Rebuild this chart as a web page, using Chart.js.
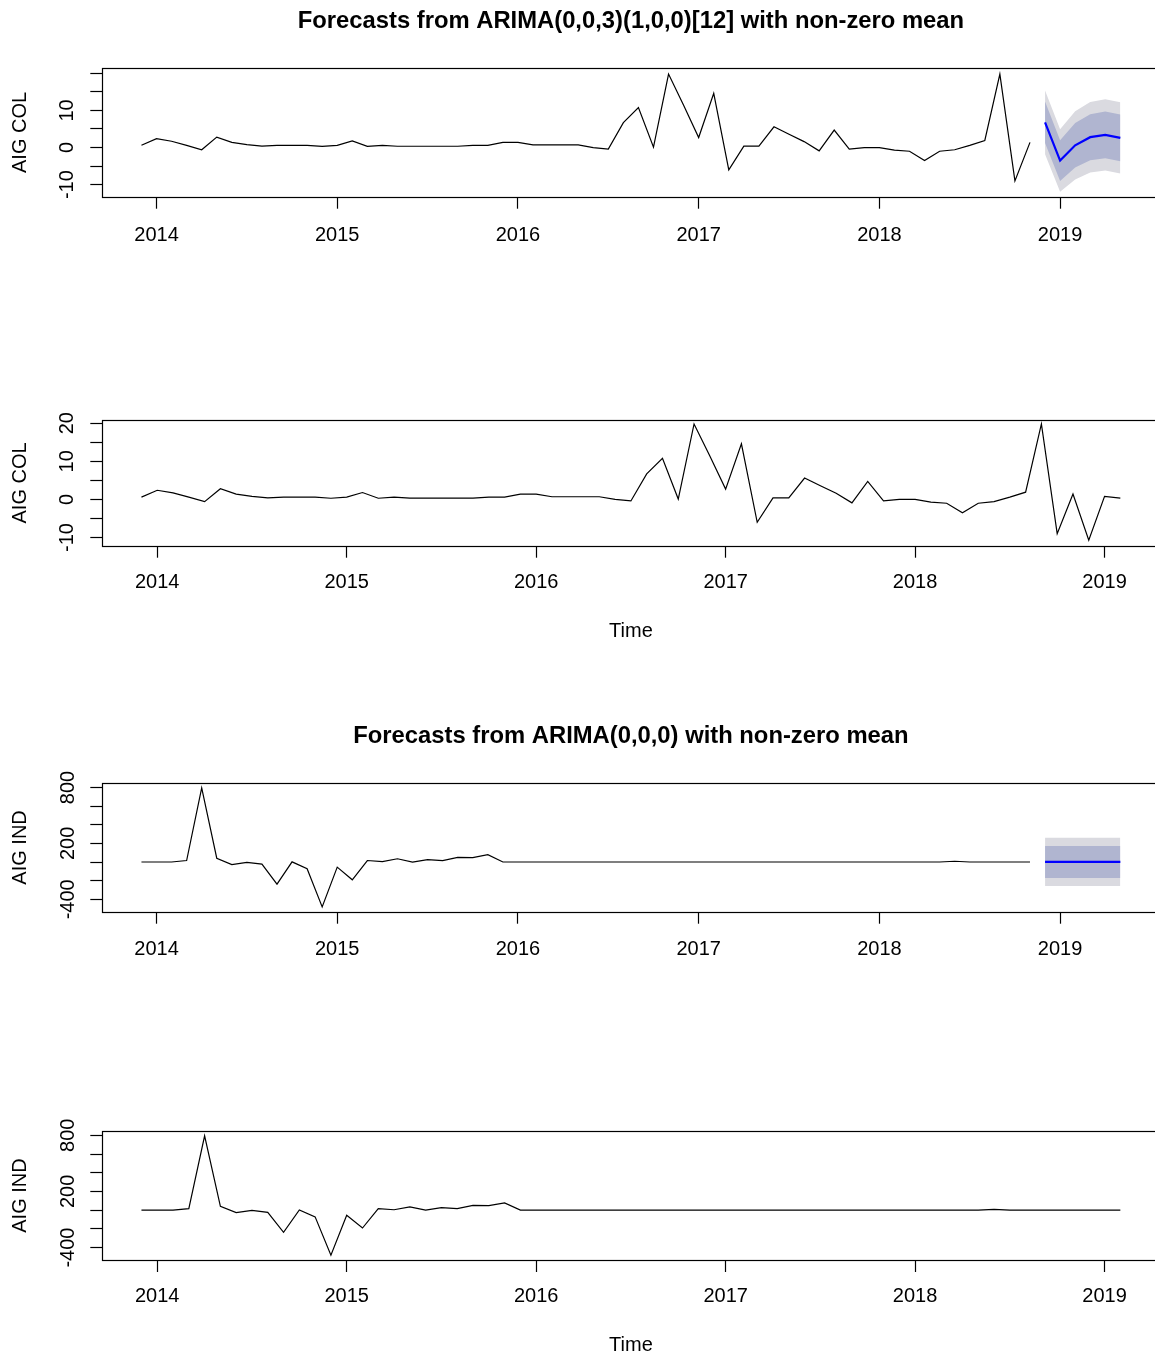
<!DOCTYPE html>
<html>
<head>
<meta charset="utf-8">
<script src="https://cdn.jsdelivr.net/npm/chart.js@4.4.1/dist/chart.umd.min.js"></script>
<style>
html,body{margin:0;padding:0;width:1155px;height:1357px;overflow:hidden;background:#fff}
canvas{position:absolute;left:0}
</style>
</head>
<body>
<canvas id="p1"></canvas>
<canvas id="p2"></canvas>
<canvas id="p3"></canvas>
<canvas id="p4"></canvas>
<script>
// ---------------- DATA ----------------
const seriesStart = 2013 + 11 / 12;      // Dec 2013 (monthly series)
const forecastStart = 2018 + 11 / 12;    // Dec 2018
const yearTicks = [2014, 2015, 2016, 2017, 2018, 2019];
const fitLength = 60;                    // Dec 2013 .. Nov 2018 used for the models

const colTicks = [-10, -5, 0, 5, 10, 15, 20];
const colLabelsFc = [-10, 0, 10];
const colLabelsFull = [-10, 0, 10, 20];
const indTicks = [-400, -200, 0, 200, 400, 600, 800];
const indLabels = [-400, 200, 800];

// AIG COL, Dec 2013 .. Feb 2019
const colValues = [
  0.6, 2.4, 1.7, 0.6, -0.6, 2.8, 1.4, 0.8, 0.4, 0.6, 0.6, 0.6,
  0.3, 0.6, 1.8, 0.3, 0.6, 0.35, 0.35, 0.35, 0.35, 0.35, 0.6, 0.6,
  1.4, 1.4, 0.7, 0.7, 0.7, 0.7, 0.0, -0.4, 6.7, 10.8, 0.1, 19.8,
  11.4, 2.7, 14.6, -6.0, 0.4, 0.4, 5.6, 3.6, 1.6, -0.9, 4.7, -0.4,
  0.0, 0.0, -0.7, -1.0, -3.5, -1.0, -0.6, 0.6, 1.9, 19.8, -9.0, 1.4,
  -10.7, 0.8, 0.35
];
// AIG IND, Dec 2013 .. Feb 2019
const indValues = [
  0, 0, 0, 16, 795, 41, -27, -3, -23, -237, 2, -72,
  -482, -55, -191, 16, 4, 35, 0, 26, 16, 50, 48, 78,
  0, 0, 0, 0, 0, 0, 0, 0, 0, 0, 0, 0,
  0, 0, 0, 0, 0, 0, 0, 0, 0, 0, 0, 0,
  0, 0, 0, 0, 0, 0, 8, 0, 0, 0, 0, 0,
  0, 0, 0
];

// Forecasts Dec 2018 .. May 2019
const colFcMean = [6.8, -3.5, 0.6, 2.8, 3.4, 2.6];
const colFcLo80 = [1.2, -9.0, -5.4, -3.4, -2.9, -3.7];
const colFcHi80 = [12.4, 2.0, 6.6, 9.0, 9.7, 8.9];
const colFcLo95 = [-1.8, -11.9, -8.6, -6.7, -6.2, -7.0];
const colFcHi95 = [15.4, 4.9, 9.8, 12.3, 13.0, 12.2];

const indFcMean = [1, 1, 1, 1, 1, 1];
const indFcLo80 = [-171, -171, -171, -171, -171, -171];
const indFcHi80 = [173, 173, 173, 173, 173, 173];
const indFcLo95 = [-258, -258, -258, -258, -258, -258];
const indFcHi95 = [260, 260, 260, 260, 260, 260];

const titleCol = 'Forecasts from ARIMA(0,0,3)(1,0,0)[12] with non-zero mean';
const titleInd = 'Forecasts from ARIMA(0,0,0) with non-zero mean';

// ---------------- RENDERING ----------------
Chart.defaults.font.family = "'Liberation Sans', Arial, sans-serif";
Chart.defaults.color = '#000';

const CW = 1180;
const PLOT_LEFT = 102.3;
const PLOT_RIGHT = 1159.5;
const SHADE95 = '#DADAE0';
const SHADE80 = '#B0B5D0';

function toPoints(start, vals) {
  return vals.map((v, i) => ({ x: start + i / 12, y: v }));
}

const boxPlugin = {
  id: 'rbox',
  afterDraw(chart) {
    const { ctx, chartArea: a } = chart;
    ctx.save();
    ctx.strokeStyle = '#000';
    ctx.lineWidth = 1.2;
    const l = Math.round(a.left) + 0.5, t = Math.round(a.top) + 0.5;
    const r = Math.round(a.right) + 0.5, b = Math.round(a.bottom) + 0.5;
    ctx.strokeRect(l, t, r - l, b - t);
    ctx.restore();
  }
};

function lineDs(points, color, width) {
  return { data: points, borderColor: color, borderWidth: width, pointRadius: 0, fill: false, tension: 0 };
}
function bandDs(points, color, fillTarget) {
  return { data: points, borderWidth: 0, borderColor: 'rgba(0,0,0,0)', backgroundColor: color,
           pointRadius: 0, fill: fillTarget, tension: 0 };
}

function forecastDatasets(hist, mean, lo80, hi80, lo95, hi95) {
  return [
    lineDs(toPoints(seriesStart, hist), '#000', 1.2),
    lineDs(toPoints(forecastStart, mean), '#0000FF', 2.2),
    bandDs(toPoints(forecastStart, hi80), SHADE80, '+1'),
    bandDs(toPoints(forecastStart, lo80), SHADE80, false),
    bandDs(toPoints(forecastStart, hi95), SHADE95, '+1'),
    bandDs(toPoints(forecastStart, lo95), SHADE95, false)
  ];
}

function makePanel(p) {
  const cv = document.getElementById(p.id);
  cv.width = CW; cv.height = p.height;
  cv.style.width = CW + 'px'; cv.style.height = p.height + 'px';
  cv.style.top = p.top + 'px';
  const gridCfg = { display: true, drawOnChartArea: false, drawTicks: true, tickLength: 12, tickColor: '#000', tickWidth: 1.2 };
  new Chart(cv, {
    type: 'line',
    data: { datasets: p.datasets },
    options: {
      responsive: false,
      animation: false,
      devicePixelRatio: 1,
      layout: { padding: { left: 0, right: CW - PLOT_RIGHT, top: p.padTop, bottom: 0 } },
      plugins: {
        legend: { display: false },
        tooltip: { enabled: false },
        title: p.title ? {
          display: true, text: p.title, fullSize: false, color: '#000',
          font: { size: 23.8, weight: 'bold' },
          padding: { top: p.titlePadTop, bottom: p.titlePadBottom }
        } : { display: false }
      },
      scales: {
        x: {
          type: 'linear', min: p.xmin, max: p.xmax,
          afterFit: s => { s.height = p.xAxisH; },
          afterBuildTicks: s => { s.ticks = yearTicks.map(v => ({ value: v })); },
          ticks: {
            autoSkip: false, minRotation: 0, maxRotation: 0,
            font: { size: 20 }, color: '#000', padding: p.xTickPad,
            callback: v => String(v)
          },
          grid: gridCfg,
          border: { display: false },
          title: p.xTitle ? {
            display: true, text: p.xTitle, color: '#000', font: { size: 20 },
            padding: { top: 0, bottom: p.xTitlePadBottom }
          } : { display: false }
        },
        y: {
          type: 'linear', min: p.ymin, max: p.ymax,
          afterFit: s => { s.width = PLOT_LEFT; },
          afterBuildTicks: s => { s.ticks = p.yTicks.map(v => ({ value: v })); },
          ticks: {
            autoSkip: false,
            minRotation: 90, maxRotation: 90, crossAlign: 'center',
            padding: p.yTickPad, font: { size: 20 }, color: '#000',
            callback: v => p.yLabels.includes(v) ? String(v) : ''
          },
          grid: gridCfg,
          border: { display: false },
          title: {
            display: true, text: p.yTitle, color: '#000', font: { size: 20 },
            padding: { top: p.yTitlePadTop, bottom: 0 }
          }
        }
      }
    },
    plugins: [boxPlugin]
  });
}

const colHist = colValues.slice(0, fitLength);
const indHist = indValues.slice(0, fitLength);

// Panel 1: COL forecast
makePanel({
  id: 'p1', top: 0, height: 257, padTop: 0,
  title: titleCol, titlePadTop: 6.7, titlePadBottom: 32.9,
  xmin: 2013.70, xmax: 2019.55, xAxisH: 60.3, xTickPad: 14.8, xTitle: null,
  ymin: -13.25, ymax: 21.4, yTicks: colTicks, yLabels: colLabelsFc,
  yTitle: 'AIG COL', yTitlePadTop: 8.7, yTickPad: 8.15,
  datasets: forecastDatasets(colHist, colFcMean, colFcLo80, colFcHi80, colFcLo95, colFcHi95)
});

// Panel 2: COL full series
makePanel({
  id: 'p2', top: 400, height: 247, padTop: 17,
  title: null,
  xmin: 2013.71, xmax: 2019.29, xAxisH: 101.3, xTickPad: 13, xTitle: 'Time', xTitlePadBottom: 4,
  ymin: -12.15, ymax: 20.8, yTicks: colTicks, yLabels: colLabelsFull,
  yTitle: 'AIG COL', yTitlePadTop: 8.7, yTickPad: 8.15,
  datasets: [lineDs(toPoints(seriesStart, colValues), '#000', 1.2)]
});

// Panel 3: IND forecast
makePanel({
  id: 'p3', top: 690, height: 282, padTop: 0,
  title: titleInd, titlePadTop: 31.7, titlePadBottom: 32.9,
  xmin: 2013.70, xmax: 2019.55, xAxisH: 60.3, xTickPad: 13.8, xTitle: null,
  ymin: -533, ymax: 846, yTicks: indTicks, yLabels: indLabels,
  yTitle: 'AIG IND', yTitlePadTop: 8, yTickPad: 2,
  datasets: forecastDatasets(indHist, indFcMean, indFcLo80, indFcHi80, indFcLo95, indFcHi95)
});

// Panel 4: IND full series
makePanel({
  id: 'p4', top: 1110, height: 247, padTop: 21,
  title: null,
  xmin: 2013.71, xmax: 2019.29, xAxisH: 97, xTickPad: 12.5, xTitle: 'Time', xTitlePadBottom: 0,
  ymin: -533, ymax: 846, yTicks: indTicks, yLabels: indLabels,
  yTitle: 'AIG IND', yTitlePadTop: 8, yTickPad: 2,
  datasets: [lineDs(toPoints(seriesStart, indValues), '#000', 1.2)]
});
</script>
</body>
</html>
